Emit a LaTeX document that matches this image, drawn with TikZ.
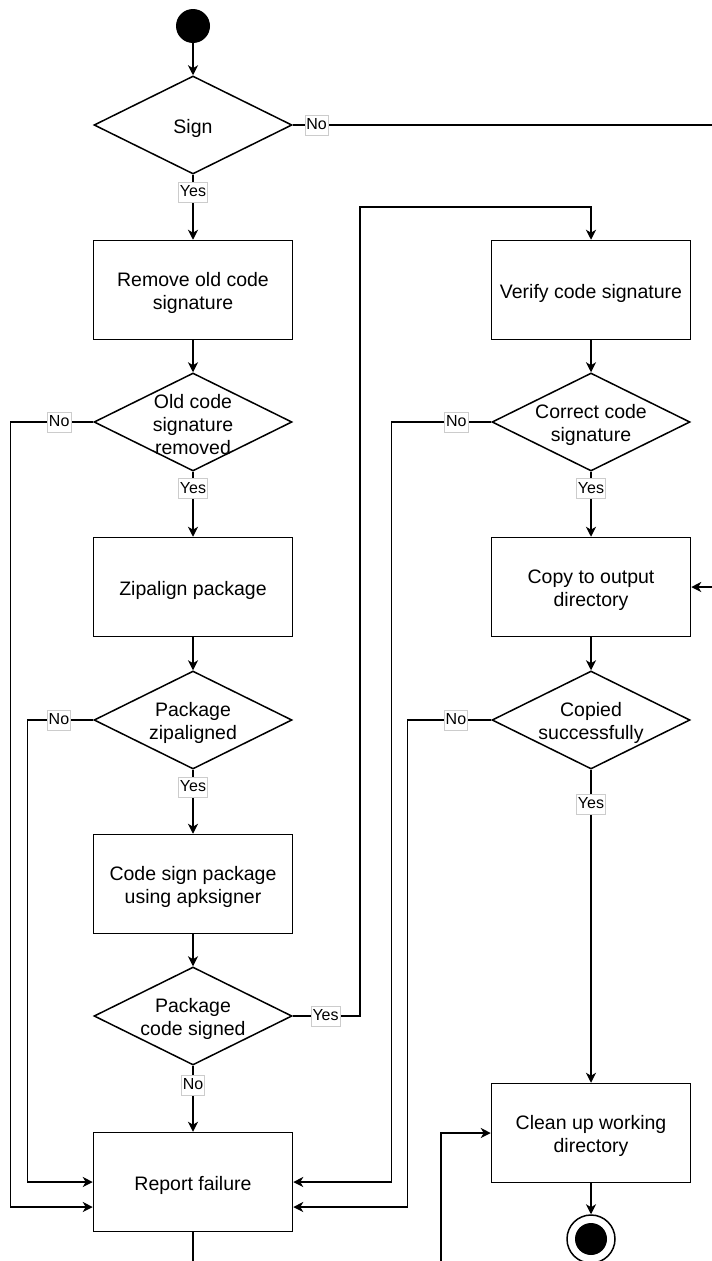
\documentclass[tikz,border=0pt]{standalone}
\usepackage{fontspec}
\setmainfont{Liberation Sans}
\usetikzlibrary{shapes.geometric,arrows.meta}
\begin{document}
\begin{tikzpicture}[x=1pt,y=-1pt,
  box/.style={draw, line width=1.5pt, minimum width=199pt, minimum height=99pt, inner sep=0pt},
  dec/.style={diamond, draw, line width=1.5pt, minimum width=198pt, minimum height=98pt, inner sep=0pt},
  dtext/.style={align=center, inner sep=0pt, yshift=-3pt, font=\fontsize{19.5}{23}\selectfont},
  lab/.style={draw=gray!40, line width=0.8pt, fill=white, font=\fontsize{16}{18}\selectfont, inner xsep=1.5pt, inner ysep=2.5pt, text height=12pt, text depth=3pt},
  ln/.style={line width=1.5pt},
  arr/.style={line width=1.5pt, -{Stealth[length=10pt,width=10pt,inset=3pt]}},
  startc/.style={circle, fill=black, minimum size=34pt, inner sep=0pt},
  endo/.style={circle, draw, line width=1.5pt, fill=white, minimum size=48pt, inner sep=0pt},
  endi/.style={circle, fill=black, minimum size=32pt, inner sep=0pt}
]
\useasboundingbox (0,0) rectangle (712,1261);
\fill[white] (0,0) rectangle (712,1261);

% left column
\node[startc] (start) at (193,26) {};
\node[dec] (sign) at (193,125) {};
\node[dtext] (sign-t) at (sign) {Sign};
\node[box] (remove) at (193,290) {};
\node[dtext] (remove-t) at (remove) {Remove old code\\signature};
\node[dec] (olddec) at (193,422) {};
\node[dtext] (olddec-t) at (olddec) {Old code\\signature\\removed};
\node[box] (zip) at (193,587) {};
\node[dtext] (zip-t) at (zip) {Zipalign package};
\node[dec] (zipdec) at (193,720) {};
\node[dtext] (zipdec-t) at (zipdec) {Package\\zipaligned};
\node[box] (codesign) at (193,884) {};
\node[dtext] (codesign-t) at (codesign) {Code sign package\\using apksigner};
\node[dec] (signed) at (193,1016) {};
\node[dtext] (signed-t) at (signed) {Package\\code signed};
\node[box] (report) at (193,1182) {};
\node[dtext] (report-t) at (report) {Report failure};

% right column
\node[box] (verify) at (591,290) {};
\node[dtext] (verify-t) at (verify) {Verify code signature};
\node[dec] (corrdec) at (591,422) {};
\node[dtext] (corrdec-t) at (corrdec) {Correct code\\signature};
\node[box] (copy) at (591,587) {};
\node[dtext] (copy-t) at (copy) {Copy to output\\directory};
\node[dec] (copied) at (591,720) {};
\node[dtext] (copied-t) at (copied) {Copied\\successfully};
\node[box] (clean) at (591,1133) {};
\node[dtext] (clean-t) at (clean) {Clean up working\\directory};
\node[endo] (end) at (591,1239) {};
\node[endi] (endin) at (end) {};

% free ends at the frame edge
\coordinate (eR1) at (712,125);
\coordinate (eR2) at (712,587);
\coordinate (eB1) at (193,1261);
\coordinate (eB2) at (441,1261);

% connectors
\draw[arr] (start.south) -- (sign.north);
\draw[ln] (sign.east) -- node[lab,pos=0.057]{No} (eR1);
\draw[arr] (sign.south) -- node[lab,pos=0.27]{Yes} (remove.north);
\draw[arr] (remove.south) -- (olddec.north);
\draw[arr] (olddec.south) -- node[lab,pos=0.26]{Yes} (zip.north);
\draw[arr] (olddec.west) -- node[lab,pos=0.41]{No} ++(-83,0) |- ([yshift=-25pt]report.west);
\draw[arr] (zip.south) -- (zipdec.north);
\draw[arr] (zipdec.south) -- node[lab,pos=0.27]{Yes} (codesign.north);
\draw[arr] (zipdec.west) -- node[lab,pos=0.52]{No} ++(-66,0) |- (report.west);
\draw[arr] (codesign.south) -- (signed.north);
\draw[arr] (signed.south) -- node[lab,pos=0.29]{No} (report.north);
\draw[arr] (signed.east) -- node[lab,pos=0.49]{Yes} ++(67,0) |- ([yshift=33pt]verify.north) -- (verify.north);
\draw[ln] (report.south) -- (eB1);

\draw[arr] (verify.south) -- (corrdec.north);
\draw[arr] (corrdec.west) -- node[lab,pos=0.35]{No} ++(-100,0) |- (report.east);
\draw[arr] (corrdec.south) -- node[lab,pos=0.26]{Yes} (copy.north);
\draw[arr] (eR2) -- (copy.east);
\draw[arr] (copy.south) -- (copied.north);
\draw[arr] (copied.west) -- node[lab,pos=0.42]{No} ++(-84,0) |- ([yshift=-25pt]report.east);
\draw[arr] (copied.south) -- node[lab,pos=0.11]{Yes} (clean.north);
\draw[arr] (eB2) |- (clean.west);
\draw[arr] (clean.south) -- (end.north);
\end{tikzpicture}
\end{document}
